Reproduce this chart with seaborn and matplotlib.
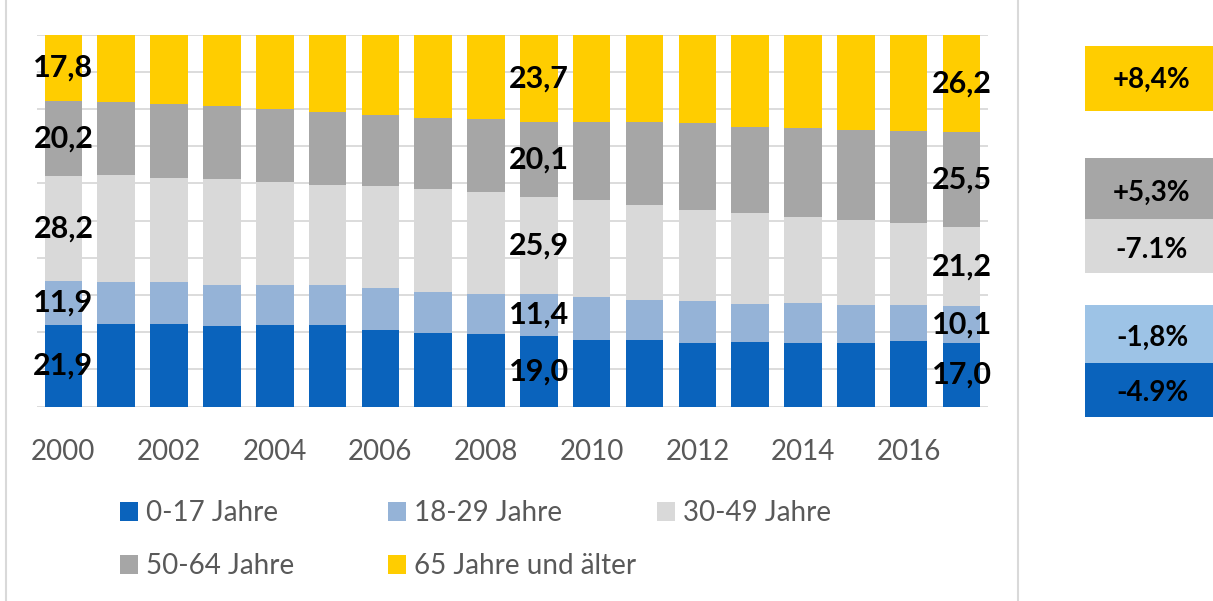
import numpy as np
import pandas as pd
import seaborn as sns
from matplotlib import pyplot as plt
from matplotlib.patches import Rectangle
from matplotlib.lines import Line2D

years = [str(y) for y in range(2000, 2018)]
groups = ["0-17 Jahre", "18-29 Jahre", "30-49 Jahre", "50-64 Jahre", "65 Jahre und älter"]
age_0_17 = [21.9, 22.2, 22.2, 21.6, 21.9, 21.9, 20.7, 19.8, 19.6, 19.0, 18.0, 18.0, 17.0, 17.4, 17.2, 17.2, 17.7, 17.0]
age_18_29 = [11.9, 11.4, 11.2, 11.1, 10.8, 10.9, 11.2, 11.1, 10.8, 11.4, 11.6, 10.7, 11.4, 10.2, 10.8, 10.1, 9.6, 10.1]
age_30_49 = [28.2, 28.7, 28.2, 28.5, 27.7, 26.9, 27.5, 27.6, 27.3, 25.9, 26.0, 25.5, 24.6, 24.4, 23.0, 22.9, 22.0, 21.2]
age_50_64 = [20.2, 19.5, 19.8, 19.6, 19.6, 19.6, 19.0, 19.2, 19.7, 20.1, 21.0, 22.2, 23.2, 23.3, 24.0, 24.2, 24.8, 25.5]
age_65 = [17.8, 18.2, 18.6, 19.2, 20.0, 20.7, 21.6, 22.3, 22.6, 23.7, 23.4, 23.6, 23.8, 24.7, 25.0, 25.6, 25.9, 26.2]
labelled_years = ["2000", "2009", "2017"]
changes = ["-4.9%", "-1,8%", "-7.1%", "+5,3%", "+8,4%"]

colors = ["#0A63BC", "#95B3D7", "#D9D9D9", "#A6A6A6", "#FFCD00"]
box_colors = ["#0A63BC", "#9DC3E6", "#D9D9D9", "#A6A6A6", "#FFCD00"]

plt.rcParams['font.family'] = ['Lato', 'DejaVu Sans']

df = pd.DataFrame({"year": years, groups[0]: age_0_17, groups[1]: age_18_29,
                   groups[2]: age_30_49, groups[3]: age_50_64, groups[4]: age_65})
cum = df[groups].cumsum(axis=1)

fig = plt.figure(figsize=(12.13, 6.01), dpi=100)
ax = fig.add_axes([0.0305, 0.3233, 0.784, 0.619])

# draw stacked bars from the top down
for g, c in reversed(list(zip(groups, colors))):
    sns.barplot(x=df["year"], y=cum[g], color=c, saturation=1, width=0.71,
                linewidth=0, ax=ax, label=g, zorder=2)

h, l = ax.get_legend_handles_labels()
hm = dict(zip(l, h))
if ax.get_legend() is not None:
    ax.get_legend().remove()

ax.set_ylim(0, 100)
ax.set_xlim(-0.5, len(years) - 0.5)
ax.set_yticks(np.arange(0, 101, 10))
ax.yaxis.grid(True, color="#D9D9D9", lw=1.3, zorder=0)
ax.set_axisbelow(True)
for s in ax.spines.values():
    s.set_visible(False)
ax.tick_params(axis="y", left=False, labelleft=False)
ax.tick_params(axis="x", bottom=False, labelsize=20, labelcolor="#595959", pad=20)
ax.set_xticks(range(len(years)))
ax.set_xticklabels([y if i % 2 == 0 else "" for i, y in enumerate(years)])
ax.set_xlabel("")
ax.set_ylabel("")

# value labels on selected years
for y in labelled_years:
    i = years.index(y)
    for g in groups:
        v = df.loc[i, g]
        ax.text(i, cum.loc[i, g] - v / 2, f"{v:.1f}".replace(".", ","), ha="center",
                va="center", fontsize=22, fontweight="bold", color="black", zorder=5)

# legend entries on an equal-width grid (two rows, three columns)
leg_pos = {groups[0]: (120, 513), groups[1]: (388, 513), groups[2]: (657, 513),
           groups[3]: (120, 566), groups[4]: (388, 566)}
for g in groups:
    x, y = leg_pos[g]
    lg = fig.legend([hm[g]], [g], loc="center left", bbox_to_anchor=(x / 1213, 1 - y / 601),
                    frameon=False, fontsize=20, labelcolor="#595959", handlelength=0.65,
                    handleheight=0.65, handletextpad=0.3, borderpad=0, borderaxespad=0)

# change boxes on the right
boxes = [(363, 417), (305, 363), (219, 273), (158, 219), (46, 111)]
text_y = [393, 338, 250, 193, 80]
for (t, b), c, txt, ty in zip(boxes, box_colors, changes, text_y):
    fig.add_artist(Rectangle((1085 / 1213, 1 - b / 601), 140 / 1213, (b - t) / 601,
                             transform=fig.transFigure, color=c, lw=0))
    fig.text(1152 / 1213, 1 - ty / 601, txt, ha="center", va="center", fontsize=20,
             fontweight="bold", color="black")

# chart border lines
for x in [6, 1018]:
    fig.add_artist(Line2D([x / 1213, x / 1213], [0, 1], color="#D9D9D9", lw=1.5))

plt.savefig("out.png", dpi=100)
